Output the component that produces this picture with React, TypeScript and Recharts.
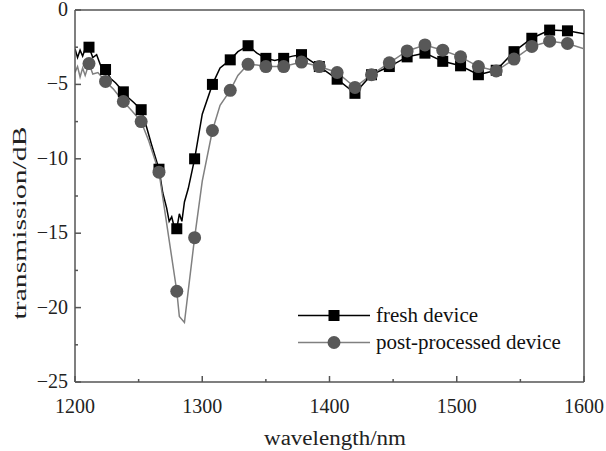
import React from "react";
import { LineChart, Line, XAxis, YAxis, ReferenceLine } from "recharts";

// marker positions (nm) shared by both series
const markWl = [1211, 1224, 1238, 1252, 1266, 1280, 1294, 1308, 1322, 1336, 1350, 1364, 1378, 1392, 1406, 1420, 1433, 1447, 1461, 1475, 1489, 1503, 1517, 1531, 1545, 1559, 1573, 1587];
const freshMarkDb = [-2.5, -4.0, -5.5, -6.7, -10.7, -14.7, -10.0, -5.0, -3.35, -2.4, -3.25, -3.25, -3.0, -3.8, -4.65, -5.6, -4.35, -3.8, -3.15, -2.9, -3.45, -3.75, -4.35, -4.05, -2.8, -1.9, -1.35, -1.4];
const postMarkDb = [-3.6, -4.8, -6.15, -7.5, -10.9, -18.9, -15.3, -8.1, -5.4, -3.65, -3.8, -3.8, -3.5, -3.8, -4.2, -5.2, -4.35, -3.55, -2.75, -2.35, -2.7, -3.15, -3.8, -4.1, -3.3, -2.45, -2.1, -2.25];

// measured curves (nm, dB)
const freshCurveWl = [1200, 1202, 1204, 1206, 1208, 1211, 1214, 1217, 1220, 1224, 1228, 1232, 1238, 1242, 1246, 1252, 1256, 1260, 1266, 1269, 1272, 1274, 1276, 1278, 1280, 1282, 1284, 1286, 1289, 1294, 1300, 1308, 1314, 1322, 1328, 1336, 1343, 1350, 1357, 1364, 1371, 1378, 1392, 1406, 1420, 1433, 1447, 1461, 1475, 1489, 1503, 1517, 1531, 1545, 1559, 1573, 1587, 1600];
const freshCurveDb = [-2.6, -3.2, -2.7, -3.1, -2.6, -2.5, -3.2, -3.0, -3.7, -4.0, -4.6, -4.9, -5.5, -5.9, -6.2, -6.7, -7.8, -9.0, -10.7, -12.3, -13.3, -14.2, -13.9, -14.6, -14.7, -13.7, -14.2, -12.9, -12.0, -10.0, -7.0, -5.0, -3.9, -3.35, -2.8, -2.4, -2.9, -3.25, -3.4, -3.25, -3.1, -3.0, -3.8, -4.65, -5.6, -4.35, -3.8, -3.15, -2.9, -3.45, -3.75, -4.35, -4.05, -2.8, -1.9, -1.35, -1.4, -1.6];
const postCurveWl = [1200, 1202, 1204, 1206, 1208, 1211, 1214, 1218, 1224, 1230, 1238, 1245, 1252, 1258, 1266, 1280, 1282, 1286, 1294, 1300, 1308, 1314, 1322, 1328, 1336, 1343, 1350, 1364, 1378, 1392, 1406, 1420, 1433, 1447, 1461, 1475, 1489, 1503, 1517, 1531, 1545, 1559, 1573, 1587, 1600];
const postCurveDb = [-4.2, -3.8, -4.5, -3.9, -4.4, -3.6, -4.3, -4.2, -4.8, -5.3, -6.15, -6.8, -7.5, -8.8, -10.9, -18.9, -20.6, -21.0, -15.3, -11.5, -8.1, -6.4, -5.4, -4.4, -3.65, -3.7, -3.8, -3.8, -3.5, -3.8, -4.2, -5.2, -4.35, -3.55, -2.75, -2.35, -2.7, -3.15, -3.8, -4.1, -3.3, -2.45, -2.1, -2.25, -2.6];

const xTicks = [1200, 1250, 1300, 1350, 1400, 1450, 1500, 1550, 1600];
const yTicks = [-25, -22.5, -20, -17.5, -15, -12.5, -10, -7.5, -5, -2.5, 0];

const toPts = (xs: number[], ys: number[]) => xs.map((x, i) => ({ x, y: ys[i] }));
const freshCurve = toPts(freshCurveWl, freshCurveDb);
const postCurve = toPts(postCurveWl, postCurveDb);
const freshMarks = toPts(markWl, freshMarkDb);
const postMarks = toPts(markWl, postMarkDb);

const FONT = "'Liberation Serif', 'Times New Roman', serif";
const AXIS = "#555";
const GRAY_LINE = "#808080";
const GRAY_DOT = "#585858";

const XTick = (props: any) => {
    const { x, y, payload } = props;
    const major = payload.value % 100 === 0;
    return (
        <g>
            <line x1={x} x2={x} y1={y} y2={y - (major ? 6 : 3)} stroke={AXIS} strokeWidth={1.5} />
            {major && (
                <text x={x} y={y + 31} textAnchor="middle" fontSize={20} fontFamily={FONT} fill="#222">
                    {payload.value}
                </text>
            )}
        </g>
    );
};

const YTick = (props: any) => {
    const { x, y, payload } = props;
    const major = payload.value % 5 === 0;
    const v = payload.value;
    return (
        <g>
            <line x1={x} x2={x + (major ? 6 : 3)} y1={y} y2={y} stroke={AXIS} strokeWidth={1.5} />
            {major && (
                <text x={x - 7} y={y + 6} textAnchor="end" fontSize={20} fontFamily={FONT} fill="#222">
                    {v < 0 ? "\u2212" + Math.abs(v) : v}
                </text>
            )}
        </g>
    );
};

const SquareDot = (props: any) => {
    const { cx, cy, index } = props;
    return <rect key={"s" + index} x={cx - 5.5} y={cy - 5.5} width={11} height={11} fill="#000" />;
};

const CircleDot = (props: any) => {
    const { cx, cy, index } = props;
    return <circle key={"c" + index} cx={cx} cy={cy} r={6.5} fill={GRAY_DOT} />;
};

const legendItems = [
    { name: "fresh device", color: "#000", square: true },
    { name: "post-processed device", color: GRAY_LINE, square: false },
];

const LegendBox = () => (
    <div style={{ position: "absolute", left: 296, top: 302, fontFamily: FONT, fontSize: 21, color: "#111", lineHeight: "27px" }}>
        {legendItems.map((it) => (
            <div key={it.name} style={{ display: "flex", alignItems: "center", height: 27, whiteSpace: "nowrap" }}>
                <svg width={80} height={27}>
                    <line x1={2} x2={74} y1={13.5} y2={13.5} stroke={it.color} strokeWidth={1.5} />
                    {it.square ? (
                        <rect x={32.5} y={8} width={11} height={11} fill="#000" />
                    ) : (
                        <circle cx={38} cy={13.5} r={6.5} fill={GRAY_DOT} />
                    )}
                </svg>
                <span>{it.name}</span>
            </div>
        ))}
    </div>
);

export default function App() {
    return (
        <div style={{ position: "absolute", left: 0, top: 0, width: 606, height: 451, background: "#fff" }}>
            <LineChart width={606} height={451} margin={{ top: 10, right: 22, left: 0, bottom: 0 }}>
                <XAxis
                    type="number"
                    dataKey="x"
                    domain={[1200, 1600]}
                    ticks={xTicks}
                    interval={0}
                    height={69}
                    tickSize={0}
                    tickMargin={0}
                    tickLine={false}
                    axisLine={{ stroke: AXIS, strokeWidth: 1.5 }}
                    tick={<XTick />}
                    allowDataOverflow
                    label={() => (
                        <text x={335} y={445} textAnchor="middle" fontSize={20} fontFamily={FONT} fill="#222" textLength={142} lengthAdjust="spacingAndGlyphs">
                            wavelength/nm
                        </text>
                    )}
                />
                <YAxis
                    type="number"
                    dataKey="y"
                    domain={[-25, 0]}
                    ticks={yTicks}
                    interval={0}
                    width={75}
                    tickSize={0}
                    tickMargin={0}
                    tickLine={false}
                    axisLine={{ stroke: AXIS, strokeWidth: 1.5 }}
                    tick={<YTick />}
                    allowDataOverflow
                    label={() => (
                        <text
                            x={0}
                            y={0}
                            transform="translate(26,223) rotate(-90)"
                            textAnchor="middle"
                            fontSize={19}
                            fontFamily={FONT}
                            fill="#222"
                            textLength={193}
                            lengthAdjust="spacingAndGlyphs"
                        >
                            transmission/dB
                        </text>
                    )}
                />
                <ReferenceLine y={0} stroke={AXIS} strokeWidth={1.5} />
                <ReferenceLine x={1600} stroke={AXIS} strokeWidth={1.5} />
                <Line data={freshCurve} dataKey="y" type="linear" stroke="#000" strokeWidth={1.5} dot={false} isAnimationActive={false} />
                <Line data={freshMarks} dataKey="y" type="linear" stroke="none" dot={SquareDot} activeDot={false} isAnimationActive={false} />
                <Line data={postCurve} dataKey="y" type="linear" stroke={GRAY_LINE} strokeWidth={1.5} dot={false} isAnimationActive={false} />
                <Line data={postMarks} dataKey="y" type="linear" stroke="none" dot={CircleDot} activeDot={false} isAnimationActive={false} />
            </LineChart>
            <LegendBox />
        </div>
    );
}
